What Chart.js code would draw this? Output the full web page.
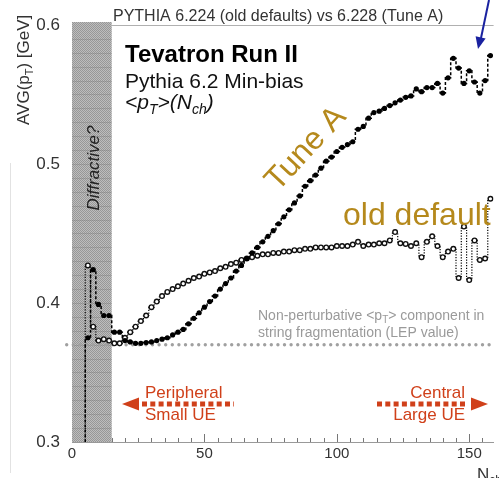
<!DOCTYPE html>
<html>
<head>
<meta charset="utf-8">
<script src="https://cdn.jsdelivr.net/npm/chart.js@4.4.1/dist/chart.umd.min.js"></script>
<style>
html,body{margin:0;padding:0;background:#fff;}
#wrap{width:499px;height:478px;position:relative;}
</style>
</head>
<body>
<div id="wrap"><canvas id="c" width="499" height="478"></canvas></div>
<script>
// ---- data ----
const nch = [
  4,6,8,10,12,14,16,18,20,22,
  24,26,28,30,32,34,36,38,40,42,
  44,46,48,50,52,54,56,58,60,62,
  64,66,68,70,72,74,76,78,80,82,
  84,86,88,90,92,94,96,98,100,102,
  104,106,108,110,112,114,116,118,120,122,
  124,126,128,130,132,134,136,138,140,142,
  144,146,148,150,152,154,156,158
];
const tuneA = [
  0.280,0.375,0.424,0.399,0.391,0.391,0.379,0.379,0.373,0.372,
  0.371,0.371,0.3715,0.372,0.373,0.374,0.375,0.377,0.379,0.381,
  0.385,0.389,0.393,0.397,0.401,0.405,0.410,0.414,0.418,0.423,
  0.427,0.432,0.436,0.440,0.444,0.448,0.452,0.457,0.462,0.467,
  0.472,0.477,0.484,0.488,0.492,0.497,0.502,0.505,0.509,0.512,
  0.514,0.516,0.525,0.527,0.533,0.537,0.538,0.540,0.542,0.544,
  0.546,0.548,0.549,0.554,0.552,0.555,0.555,0.558,0.551,0.562,
  0.576,0.569,0.558,0.567,0.559,0.551,0.560,0.578
];
const oldDefault = [
  0.280,0.427,0.383,0.373,0.374,0.373,0.371,0.371,0.375,0.379,
  0.383,0.387,0.391,0.397,0.401,0.405,0.408,0.410,0.412,0.414,
  0.416,0.418,0.419,0.421,0.422,0.423,0.425,0.426,0.428,0.429,
  0.431,0.432,0.433,0.434,0.435,0.435,0.436,0.436,0.437,0.437,
  0.438,0.438,0.439,0.439,0.440,0.440,0.440,0.440,0.441,0.441,
  0.441,0.442,0.444,0.441,0.442,0.442,0.443,0.443,0.445,0.451,
  0.443,0.4425,0.441,0.443,0.433,0.444,0.448,0.441,0.433,0.437,
  0.439,0.418,0.455,0.4165,0.445,0.431,0.432,0.475
];
const lepN = [-2, 159.2];
const lepV = [0.37, 0.37];
const xTickValues = [0, 50, 100, 150];
const yTickValues = [0.3, 0.4, 0.5, 0.6];
const xMinorStep = 5;
const diffractiveMax = 15;

// ---- chart ----
const FONT = "'Liberation Sans', Arial, Helvetica, sans-serif";
const GOLD = '#b5891c';
const RED = '#d0401a';

const pc = document.createElement('canvas');
pc.width = 2; pc.height = 2;
const pctx = pc.getContext('2d');
pctx.fillStyle = '#bdbdbd'; pctx.fillRect(0,0,2,2);
pctx.fillStyle = '#979797';
pctx.fillRect(0,0,1,1); pctx.fillRect(1,1,1,1);

function subText(ctx, parts, x, y){
  let cx = x;
  for (const p of parts){
    ctx.font = (p[3]||'') + ' ' + p[1] + 'px ' + FONT;
    ctx.fillText(p[0], cx, y + (p[2]||0));
    cx += ctx.measureText(p[0]).width;
  }
  return cx;
}

const annot = {
  id: 'annot',
  beforeDatasetsDraw(chart){
    const {ctx, chartArea:a, scales:{x, y}} = chart;
    ctx.save();
    ctx.strokeStyle = '#e2e2e2'; ctx.lineWidth = 1;
    ctx.beginPath(); ctx.moveTo(10.5, 163); ctx.lineTo(10.5, 473); ctx.stroke();
    ctx.strokeStyle = '#777';
    for (let v = 0; v <= x.max; v += xMinorStep){
      const px = Math.round(x.getPixelForValue(v)) + 0.5;
      const len = (v % 50 === 0) ? 8 : 4;
      ctx.beginPath(); ctx.moveTo(px, a.bottom); ctx.lineTo(px, a.bottom - len); ctx.stroke();
    }
    ctx.strokeStyle = '#b0b0b0';
    ctx.beginPath(); ctx.moveTo(x.getPixelForValue(diffractiveMax), a.top + 0.5); ctx.lineTo(a.right, a.top + 0.5); ctx.stroke();
    const x0 = x.getPixelForValue(0), x1 = x.getPixelForValue(diffractiveMax);
    ctx.fillStyle = ctx.createPattern(pc, 'repeat');
    ctx.fillRect(x0, a.top - 3, x1 - x0, a.bottom - a.top + 3);
    ctx.strokeStyle = 'rgba(120,120,120,0.35)';
    for (let v = 0.31; v < 0.6; v += 0.01){
      const py = Math.round(y.getPixelForValue(v)) + 0.5;
      ctx.beginPath(); ctx.moveTo(x0, py); ctx.lineTo(x1, py); ctx.stroke();
    }
    ctx.translate((x0 + x1) / 2 + 2, 168);
    ctx.rotate(-Math.PI / 2);
    ctx.fillStyle = '#222';
    ctx.font = 'italic 17px ' + FONT;
    ctx.textAlign = 'center'; ctx.textBaseline = 'middle';
    ctx.fillText('Diffractive?', 0, 0);
    ctx.restore();
  },
  afterDraw(chart){
    const {ctx} = chart;
    ctx.save();
    ctx.textBaseline = 'alphabetic';
    ctx.textAlign = 'left';
    ctx.fillStyle = '#333';
    ctx.font = '16px ' + FONT;
    ctx.fillText('PYTHIA 6.224 (old defaults) vs 6.228 (Tune A)', 113, 21);
    ctx.fillStyle = '#000';
    ctx.font = 'bold 24px ' + FONT;
    ctx.fillText('Tevatron Run II', 125, 62);
    ctx.fillStyle = '#111';
    ctx.font = '21px ' + FONT;
    ctx.fillText('Pythia 6.2 Min-bias', 125, 88);
    subText(ctx, [['<p',21,0,'italic'],['T',14,5,'italic'],['>(N',21,0,'italic'],['ch',14,5,'italic'],[')',21,0,'italic']], 125, 109);
    ctx.save();
    ctx.translate(29, 125);
    ctx.rotate(-Math.PI/2);
    ctx.fillStyle = '#333';
    subText(ctx, [['AVG(p',17,0,''],['T',11,4,''],[') [GeV]',17,0,'']], 0, 0);
    ctx.restore();
    ctx.fillStyle = '#333';
    subText(ctx, [['N',17,0,''],['ch',12,4,'']], 477, 480);
    ctx.save();
    ctx.translate(306, 149);
    ctx.rotate(-47 * Math.PI / 180);
    ctx.fillStyle = GOLD;
    ctx.font = '32px ' + FONT;
    ctx.textAlign = 'center'; ctx.textBaseline = 'middle';
    ctx.fillText('Tune A', 0, 0);
    ctx.restore();
    ctx.fillStyle = GOLD;
    ctx.font = '32px ' + FONT;
    ctx.fillText('old default', 343, 225);
    ctx.fillStyle = '#9a9a9a';
    subText(ctx, [['Non-perturbative <p',14,0,''],['T',10,3,''],['> component in',14,0,'']], 258, 320);
    ctx.font = '14px ' + FONT;
    ctx.fillText('string fragmentation (LEP value)', 258, 337);
    ctx.fillStyle = RED;
    ctx.font = '17px ' + FONT;
    ctx.fillText('Peripheral', 145, 398);
    ctx.fillText('Small UE', 145, 420);
    ctx.textAlign = 'right';
    ctx.fillText('Central', 465, 398);
    ctx.fillText('Large UE', 465, 420);
    ctx.strokeStyle = RED; ctx.lineWidth = 5; ctx.setLineDash([5, 3.3]);
    ctx.beginPath(); ctx.moveTo(142, 404); ctx.lineTo(234, 404); ctx.stroke();
    ctx.beginPath(); ctx.moveTo(377, 404); ctx.lineTo(468, 404); ctx.stroke();
    ctx.setLineDash([]);
    ctx.beginPath(); ctx.moveTo(122, 404); ctx.lineTo(139, 397.5); ctx.lineTo(139, 410.5); ctx.closePath(); ctx.fill();
    ctx.beginPath(); ctx.moveTo(488, 404); ctx.lineTo(471, 397.5); ctx.lineTo(471, 410.5); ctx.closePath(); ctx.fill();
    ctx.strokeStyle = '#1a22a0'; ctx.fillStyle = '#1a22a0'; ctx.lineWidth = 2;
    ctx.beginPath(); ctx.moveTo(489, 0); ctx.lineTo(481, 38); ctx.stroke();
    ctx.beginPath(); ctx.moveTo(478, 49); ctx.lineTo(475.6, 36.2); ctx.lineTo(485.6, 38.4); ctx.closePath(); ctx.fill();
    ctx.restore();
  }
};

const toXY = (xs, ys) => xs.map((v, i) => ({x: v, y: ys[i]}));

new Chart(document.getElementById('c'), {
  type: 'line',
  data: {
    datasets: [
      {
        label: 'Tune A',
        data: toXY(nch, tuneA),
        stepped: 'middle',
        borderColor: '#000',
        borderWidth: 1.5,
        borderDash: [3, 2],
        pointRadius: 2.6,
        pointBackgroundColor: '#000',
        pointBorderColor: '#000',
        pointBorderWidth: 0,
        fill: false
      },
      {
        label: 'old default',
        data: toXY(nch, oldDefault),
        stepped: 'middle',
        borderColor: '#000',
        borderWidth: 1.2,
        borderDash: [1.2, 1.5],
        pointRadius: 2.3,
        pointBackgroundColor: '#fff',
        pointBorderColor: '#111',
        pointBorderWidth: 1.4,
        fill: false
      },
      {
        label: 'LEP',
        data: toXY(lepN, lepV),
        borderColor: '#a0a0a0',
        borderWidth: 3.4,
        borderCapStyle: 'round',
        borderDash: [0, 6.6],
        pointRadius: 0,
        clip: false,
        fill: false
      }
    ]
  },
  options: {
    responsive: false,
    animation: false,
    events: [],
    layout: {padding: {top: 25, right: 0, left: 0, bottom: 0}},
    plugins: {legend: {display: false}, tooltip: {enabled: false}},
    scales: {
      x: {
        type: 'linear',
        min: 0, max: 159.2,
        afterBuildTicks: s => { s.ticks = xTickValues.map(v => ({value: v})); },
        afterFit: s => { s.height = 36; },
        grid: {display: false, drawTicks: false},
        border: {display: true, color: '#999', width: 1},
        ticks: {color: '#333', font: {family: FONT, size: 15}, padding: 3, maxRotation: 0, autoSkip: false}
      },
      y: {
        min: 0.3, max: 0.6,
        afterBuildTicks: s => { s.ticks = yTickValues.map(v => ({value: v})); },
        afterFit: s => { s.width = 72; },
        grid: {display: false, drawTicks: false},
        border: {display: false},
        ticks: {color: '#333', font: {family: FONT, size: 17}, padding: 12, callback: v => Number(v).toFixed(1)}
      }
    }
  },
  plugins: [annot]
});
</script>
</body>
</html>
